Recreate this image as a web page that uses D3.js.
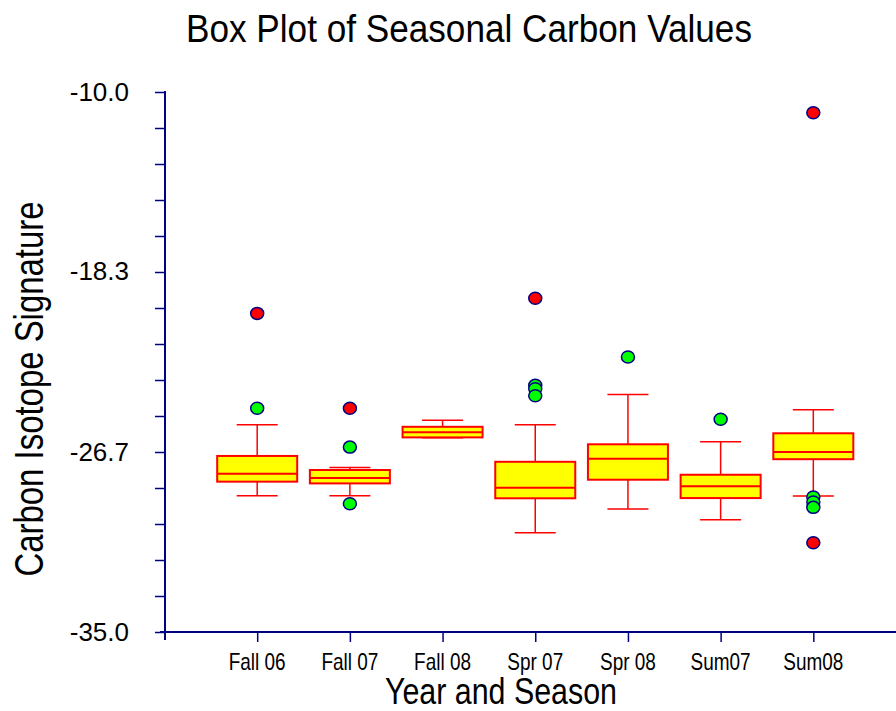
<!DOCTYPE html>
<html>
<head>
<meta charset="utf-8">
<script src="https://cdn.jsdelivr.net/npm/d3@7"></script>
<style>
  html, body { margin: 0; padding: 0; background: #fff; }
  svg { display: block; font-family: "Liberation Sans", Arial, sans-serif; }
</style>
</head>
<body>
<svg id="chart" width="896" height="711"></svg>
<script>
// ---- Data ----
const categories   = ["Fall 06", "Fall 07", "Fall 08", "Spr 07", "Spr 08", "Sum07", "Sum08"];
const whiskerLow   = [-28.69, -28.69, -26.01, -30.40, -29.31, -29.80, -28.70];
const quartile1    = [-28.04, -28.12, -25.99, -28.81, -27.95, -28.80, -27.00];
const medians      = [-27.67, -27.87, -25.75, -28.32, -26.98, -28.25, -26.67];
const quartile3    = [-26.85, -27.50, -25.50, -27.12, -26.31, -27.72, -25.80];
const whiskerHigh  = [-25.40, -27.39, -25.20, -25.40, -24.01, -26.19, -24.71];
const nearOutliers = [[-24.64], [-26.44, -29.06], [], [-23.58, -23.74, -24.06], [-22.27], [-25.15], [-28.75, -28.98, -29.23]];
const farOutliers  = [[-20.25], [-24.64], [], [-19.55], [], [], [-10.96, -30.87]];
const yMajorTicks  = [-10.0, -18.3, -26.7, -35.0];
const yTickLabels  = ["-10.0", "-18.3", "-26.7", "-35.0"];

// ---- Layout ----
const svg = d3.select("#chart");
const navy = "#000080", red = "#FF0000", yellow = "#FFFF00", green = "#00FF00";

const y = d3.scaleLinear().domain([-35, -10]).range([632, 92]);
const x = d3.scaleLinear().domain([0, 8]).range([164.5, 906]);

function condense(sel, target) {
  sel.each(function() {
    const len = this.getComputedTextLength();
    const t = typeof target === "function" ? target(len) : target;
    d3.select(this).attr("textLength", t).attr("lengthAdjust", "spacingAndGlyphs");
  });
}

// ---- Y axis ----
const yTicksAll = d3.range(16).map(i => -35 + i * 25 / 15);
const yAxis = d3.axisLeft(y)
  .tickValues(yTicksAll)
  .tickSize(10)
  .tickSizeOuter(0)
  .tickFormat(() => "");
const gy = svg.append("g").attr("transform", "translate(165,0)").call(yAxis);
gy.select(".domain").remove();
gy.selectAll(".tick line").attr("stroke", navy).attr("stroke-width", 1.5);
gy.append("line").attr("x1", 0).attr("x2", 0).attr("y1", 91).attr("y2", 640)
  .attr("stroke", navy).attr("stroke-width", 2);

svg.append("g").selectAll("text").data(yMajorTicks).join("text")
  .attr("x", 129).attr("y", d => y(d) + 8.5)
  .attr("text-anchor", "end")
  .attr("font-size", 26)
  .attr("fill", "#000")
  .text((d, i) => yTickLabels[i]);

// ---- X axis ----
const xAxis = d3.axisBottom(x)
  .tickValues(d3.range(1, categories.length + 1))
  .tickSize(10)
  .tickSizeOuter(0)
  .tickFormat(() => "");
const gx = svg.append("g").attr("transform", "translate(0,632)").call(xAxis);
gx.select(".domain").remove();
gx.selectAll(".tick line").attr("stroke", navy).attr("stroke-width", 1.5);
gx.append("line").attr("x1", 160).attr("x2", 896).attr("y1", 0).attr("y2", 0)
  .attr("stroke", navy).attr("stroke-width", 2);

svg.append("g").selectAll("text").data(categories).join("text")
  .attr("x", (d, i) => x(i + 1))
  .attr("y", 670)
  .attr("text-anchor", "middle")
  .attr("font-size", 24)
  .attr("fill", "#000")
  .text(d => d)
  .call(condense, len => len * 0.79);

// ---- Boxes ----
const boxW = 80, capW = 41;
const boxes = svg.append("g").selectAll("g").data(categories).join("g");

boxes.append("line")
  .attr("x1", (d, i) => x(i + 1)).attr("x2", (d, i) => x(i + 1))
  .attr("y1", (d, i) => y(quartile3[i])).attr("y2", (d, i) => y(whiskerHigh[i]))
  .attr("stroke", red).attr("stroke-width", 1.5);
boxes.append("line")
  .attr("x1", (d, i) => x(i + 1)).attr("x2", (d, i) => x(i + 1))
  .attr("y1", (d, i) => y(quartile1[i])).attr("y2", (d, i) => y(whiskerLow[i]))
  .attr("stroke", red).attr("stroke-width", 1.5);
boxes.append("line")
  .attr("x1", (d, i) => x(i + 1) - capW / 2).attr("x2", (d, i) => x(i + 1) + capW / 2)
  .attr("y1", (d, i) => y(whiskerHigh[i])).attr("y2", (d, i) => y(whiskerHigh[i]))
  .attr("stroke", red).attr("stroke-width", 1.5);
boxes.append("line")
  .attr("x1", (d, i) => x(i + 1) - capW / 2).attr("x2", (d, i) => x(i + 1) + capW / 2)
  .attr("y1", (d, i) => y(whiskerLow[i])).attr("y2", (d, i) => y(whiskerLow[i]))
  .attr("stroke", red).attr("stroke-width", 1.5);
boxes.append("rect")
  .attr("x", (d, i) => x(i + 1) - boxW / 2)
  .attr("width", boxW)
  .attr("y", (d, i) => y(quartile3[i]))
  .attr("height", (d, i) => y(quartile1[i]) - y(quartile3[i]))
  .attr("fill", yellow).attr("stroke", red).attr("stroke-width", 2);
boxes.append("line")
  .attr("x1", (d, i) => x(i + 1) - boxW / 2).attr("x2", (d, i) => x(i + 1) + boxW / 2)
  .attr("y1", (d, i) => y(medians[i])).attr("y2", (d, i) => y(medians[i]))
  .attr("stroke", red).attr("stroke-width", 2);

// ---- Outliers ----
const nearPts = nearOutliers.flatMap((arr, i) => arr.map(v => ({i, v})));
const farPts = farOutliers.flatMap((arr, i) => arr.map(v => ({i, v})));
svg.append("g").selectAll("ellipse").data(nearPts).join("ellipse")
  .attr("cx", d => x(d.i + 1)).attr("cy", d => y(d.v))
  .attr("rx", 6.5).attr("ry", 6)
  .attr("fill", green).attr("stroke", navy).attr("stroke-width", 1.5);
svg.append("g").selectAll("ellipse").data(farPts).join("ellipse")
  .attr("cx", d => x(d.i + 1)).attr("cy", d => y(d.v))
  .attr("rx", 6.5).attr("ry", 6)
  .attr("fill", red).attr("stroke", navy).attr("stroke-width", 1.5);

// ---- Titles ----
svg.append("text")
  .attr("x", 469).attr("y", 42)
  .attr("text-anchor", "middle")
  .attr("font-size", 38).attr("fill", "#000")
  .text("Box Plot of Seasonal Carbon Values")
  .call(condense, 566);

svg.append("text")
  .attr("transform", "translate(43,389) rotate(-90)")
  .attr("text-anchor", "middle")
  .attr("font-size", 41).attr("fill", "#000")
  .text("Carbon Isotope Signature")
  .call(condense, 375);

svg.append("text")
  .attr("x", 501).attr("y", 704)
  .attr("text-anchor", "middle")
  .attr("font-size", 37).attr("fill", "#000")
  .text("Year and Season")
  .call(condense, 232);
</script>
</body>
</html>
